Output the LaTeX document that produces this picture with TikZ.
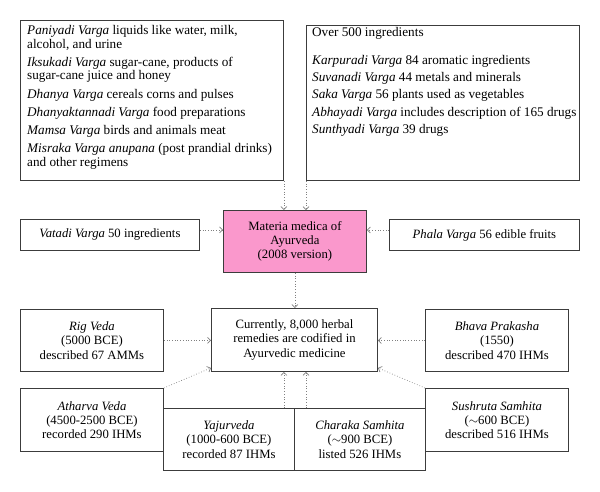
\documentclass[tikz,border=0pt]{standalone}
\usepackage{fontspec}
\setmainfont{Liberation Serif}
\usetikzlibrary{arrows.meta}
\definecolor{pinkbox}{RGB}{250,152,204}
\definecolor{boxline}{RGB}{60,60,60}
\tikzset{
  box/.style={draw=boxline, line width=0.9pt, inner sep=0pt, align=center, anchor=north west,
    font=\fontsize{12.7}{14.3}\selectfont},
  listtext/.style={inner sep=0pt, align=left, anchor=north west, font=\fontsize{13.2}{13.7}\selectfont},
  link/.style={draw=gray, dotted, line width=0.7pt, -{Straight Barb[length=3pt,width=6pt]}},
}
\begin{document}
\begin{tikzpicture}[x=1pt,y=-1pt]
\useasboundingbox (0,0) rectangle (600,491);
% top boxes
\node[box, minimum width=263pt, minimum height=160pt] (varga) at (20,20) {};
\node[listtext] (vargatext) at (27,25) {\textit{Paniyadi Varga} liquids like water, milk,\\ alcohol, and urine\\[4.5pt]
 \textit{Iksukadi Varga} sugar-cane, products of\\ sugar-cane juice and honey\\[4.5pt]
 \textit{Dhanya Varga} cereals corns and pulses\\[4.5pt]
 \textit{Dhanyaktannadi Varga} food preparations\\[4.5pt]
 \textit{Mamsa Varga} birds and animals meat\\[4.5pt]
 \textit{Misraka Varga anupana} (post prandial drinks)\\ and other regimens};
\node[box, minimum width=273pt, minimum height=155pt] (ingr) at (306,25) {};
\node[listtext] (ingrtext) at (312,27) {Over 500 ingredients\\[14.3pt]
 \textit{Karpuradi Varga} 84 aromatic ingredients\\[3.6pt]
 \textit{Suvanadi Varga} 44 metals and minerals\\[3.6pt]
 \textit{Saka Varga} 56 plants used as vegetables\\[3.6pt]
 \textit{Abhayadi Varga} includes description of 165 drugs\\[3.6pt]
 \textit{Sunthyadi Varga} 39 drugs};
% middle row
\node[box, minimum width=179pt, minimum height=31pt] (vatadi) at (20,219) {\textit{Vatadi Varga} 50 ingredients};
\node[box, fill=pinkbox, minimum width=143pt, minimum height=62pt] (materia) at (223,210) {Materia medica of\\ Ayurveda\\ (2008 version)};
\node[box, minimum width=190pt, minimum height=31pt] (phala) at (389,219) {\textit{Phala Varga} 56 edible fruits};
% sources
\node[box, minimum width=166pt, minimum height=63pt] (herbal) at (211,308) {Currently, 8,000 herbal\\ remedies are codified in\\ Ayurvedic medicine};
\node[box, minimum width=143pt, minimum height=62pt] (rig) at (20,309) {\textit{Rig Veda}\\ (5000 BCE)\\ described 67 AMMs};
\node[box, minimum width=143pt, minimum height=62pt] (bhava) at (425,309) {\textit{Bhava Prakasha}\\ (1550)\\ described 470 IHMs};
\node[box, minimum width=143pt, minimum height=63pt] (atharva) at (20,388) {\textit{Atharva Veda}\\ (4500-2500 BCE)\\ recorded 290 IHMs};
\node[box, minimum width=131pt, minimum height=62pt] (yajur) at (163,408) {\textit{Yajurveda}\\ (1000-600 BCE)\\ recorded 87 IHMs};
\node[box, minimum width=131pt, minimum height=62pt] (charaka) at (294,408) {\textit{Charaka Samhita}\\ ($\sim$900 BCE)\\ listed 526 IHMs};
\node[box, minimum width=143pt, minimum height=63pt] (sushruta) at (425,388) {\textit{Sushruta Samhita}\\ ($\sim$600 BCE)\\ described 516 IHMs};
% connectors
\draw[link] (varga.south east) -- (varga.south east |- materia.north);
\draw[link] (ingr.south west) -- (ingr.south west |- materia.north);
\draw[link] ([yshift=5pt]vatadi.east) -- ([yshift=5pt]vatadi.east -| materia.west);
\draw[link] ([yshift=5pt]phala.west) -- ([yshift=5pt]phala.west -| materia.east);
\draw[link] (materia.south) -- (materia.south |- herbal.north);
\draw[link] (rig.east) -- (rig.east -| herbal.west);
\draw[link] (bhava.west) -- (bhava.west -| herbal.east);
\draw[link] (atharva.north east) -- ([yshift=4pt]herbal.south west);
\draw[link] (sushruta.north west) -- ([yshift=4pt]herbal.south east);
\draw[link] ([xshift=-11pt]yajur.north east) -- ([xshift=-11pt]yajur.north east |- herbal.south);
\draw[link] ([xshift=12pt]charaka.north west) -- ([xshift=12pt]charaka.north west |- herbal.south);
\end{tikzpicture}
\end{document}
